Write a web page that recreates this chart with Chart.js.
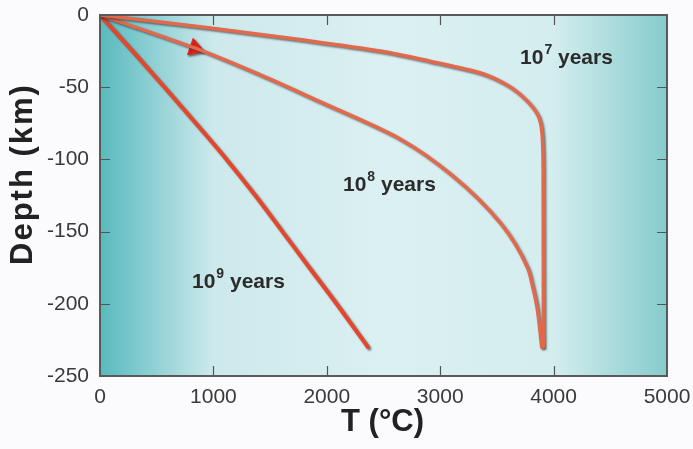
<!DOCTYPE html>
<html>
<head>
<meta charset="utf-8">
<script src="https://cdn.jsdelivr.net/npm/chart.js@4.4.1/dist/chart.umd.min.js"></script>
<style>
  html, body { margin: 0; padding: 0; background: #fbfbfd; }
</style>
</head>
<body>
<canvas id="myChart" width="693" height="449"></canvas>
<script>
// geotherms, T in °C vs depth in km
const depth7 = [0, -9, -17, -25, -32, -40, -48.5, -59, -70, -84, -110, -230];
const temp7  = [0, 970, 1760, 2470, 2910, 3350, 3590, 3760, 3865, 3900, 3908, 3910];

const depth8 = [0, -23, -41, -59, -86, -110, -144, -175, -188, -202, -230];
const temp8  = [0, 840, 1400, 1910, 2650, 3090, 3530, 3770, 3815, 3853, 3895];

const depth9 = [0, -25, -50, -75, -100, -125, -150, -175, -200, -230];
const temp9  = [0, 288, 569, 845, 1116, 1370, 1609, 1847, 2086, 2363];

// arrow on the 10^8 curve
const arrowPoint = { x: 838, y: -23 };

// curve labels: [T, depth, exponent]
const curveLabels = [
    [3704, -30, '7'],
    [2143, -118, '8'],
    [811, -185, '9'],
];

const xTicks = [0, 1000, 2000, 3000, 4000, 5000];
const yTicks = [0, -50, -100, -150, -200, -250];

const toPoints = (xs, ys) => xs.map((x, i) => ({ x: x, y: ys[i] }));

const FONT = '"Liberation Sans", Arial, Helvetica, sans-serif';

const decor = {
    id: 'decor',
    beforeDraw(chart) {
        const { ctx, chartArea: a } = chart;
        const g = ctx.createLinearGradient(a.left, 0, a.right, 0);
        g.addColorStop(0, '#58babf');
        g.addColorStop(0.2, '#cde9ec');
        g.addColorStop(0.5, '#dbf0f2');
        g.addColorStop(0.8, '#d4edef');
        g.addColorStop(1, '#86cccc');
        ctx.save();
        ctx.fillStyle = g;
        ctx.fillRect(a.left, a.top, a.right - a.left, a.bottom - a.top);
        ctx.restore();
    },
    beforeDatasetsDraw(chart) {
        const ctx = chart.ctx;
        ctx.save();
        ctx.shadowColor = 'rgba(40,40,40,0.6)';
        ctx.shadowOffsetX = 1.5;
        ctx.shadowOffsetY = 1.5;
        ctx.shadowBlur = 2;
    },
    afterDatasetsDraw(chart) {
        const { ctx, chartArea: a, scales } = chart;
        ctx.restore();
        ctx.save();
        // inward ticks
        ctx.strokeStyle = '#555';
        ctx.lineWidth = 1.2;
        const tl = 10;
        xTicks.slice(1, -1).forEach(v => {
            const px = Math.round(scales.x.getPixelForValue(v)) + 0.5;
            ctx.beginPath();
            ctx.moveTo(px, a.bottom); ctx.lineTo(px, a.bottom - tl);
            ctx.moveTo(px, a.top); ctx.lineTo(px, a.top + tl);
            ctx.stroke();
        });
        yTicks.slice(1, -1).forEach(v => {
            const py = Math.round(scales.y.getPixelForValue(v)) + 0.5;
            ctx.beginPath();
            ctx.moveTo(a.left, py); ctx.lineTo(a.left + tl, py);
            ctx.moveTo(a.right, py); ctx.lineTo(a.right - tl, py);
            ctx.stroke();
        });
        // frame
        ctx.strokeStyle = '#5a5a5a';
        ctx.lineWidth = 2;
        ctx.strokeRect(a.left, a.top, a.right - a.left, a.bottom - a.top);

        // curve labels
        ctx.fillStyle = '#2b2b2b';
        ctx.textBaseline = 'middle';
        ctx.textAlign = 'left';
        curveLabels.forEach(([t, d, e]) => {
            let x = scales.x.getPixelForValue(t);
            const y = scales.y.getPixelForValue(d);
            ctx.font = 'bold 21px ' + FONT;
            ctx.fillText('10', x, y);
            x += ctx.measureText('10').width + 1;
            ctx.font = 'bold 14px ' + FONT;
            ctx.fillText(e, x, y - 8);
            x += ctx.measureText(e).width;
            ctx.font = 'bold 21px ' + FONT;
            ctx.fillText(' years', x, y);
        });

        // axis titles
        ctx.fillStyle = '#222';
        ctx.textAlign = 'center';
        ctx.font = 'bold 31px ' + FONT;
        ctx.fillText('T (°C)', (a.left + a.right) / 2 - 1, 422);
        ctx.translate(23, 174);
        ctx.rotate(-Math.PI / 2);
        ctx.letterSpacing = '2px';
        ctx.fillText('Depth (km)', 0, 0);
        ctx.restore();
    }
};

const lineStyle = (color, width) => ({
    borderColor: color,
    borderWidth: width,
    pointRadius: 0,
    fill: false,
    cubicInterpolationMode: 'monotone',
    borderCapStyle: 'round',
    borderJoinStyle: 'round',
});

const data = {
    datasets: [
        Object.assign({ label: '10^7 years', data: toPoints(temp7, depth7) }, lineStyle('#e2694b', 3.5)),
        Object.assign({ label: '10^8 years', data: toPoints(temp8, depth8) }, lineStyle('#e2694b', 3.5)),
        Object.assign({ label: '10^9 years', data: toPoints(temp9, depth9) }, lineStyle('#e4472c', 4)),
        {
            label: 'arrow',
            data: [arrowPoint],
            showLine: false,
            pointStyle: 'triangle',
            pointRadius: 10,
            pointRotation: 109,
            backgroundColor: '#ec2418',
            borderColor: '#ec2418',
            borderWidth: 1,
        },
    ]
};

const config = {
    type: 'line',
    data: data,
    options: {
        responsive: false,
        animation: false,
        indexAxis: 'y',
        layout: { padding: { top: 15, right: 26, left: 0, bottom: 0 } },
        plugins: {
            legend: { display: false },
            tooltip: { enabled: false },
        },
        scales: {
            x: {
                type: 'linear',
                min: 0,
                max: 5000,
                grid: { display: false, drawTicks: false },
                border: { display: false },
                ticks: {
                    stepSize: 1000,
                    padding: 9,
                    color: '#3a3a3a',
                    font: { family: FONT, size: 21 },
                    callback: v => String(v),
                },
                afterFit: (s) => {
                    s.height = 73;
                    s.paddingLeft = 0; s.paddingRight = 0;
                },
            },
            y: {
                type: 'linear',
                min: -250,
                max: 0,
                grid: { display: false, drawTicks: false },
                border: { display: false },
                ticks: {
                    stepSize: 50,
                    padding: 11,
                    color: '#3a3a3a',
                    font: { family: FONT, size: 21 },
                    callback: v => String(v),
                },
                afterFit: (s) => {
                    s.width = 100;
                    s.paddingTop = 0; s.paddingBottom = 0;
                },
            }
        }
    },
    plugins: [decor],
};

new Chart(document.getElementById('myChart'), config);
</script>
</body>
</html>
